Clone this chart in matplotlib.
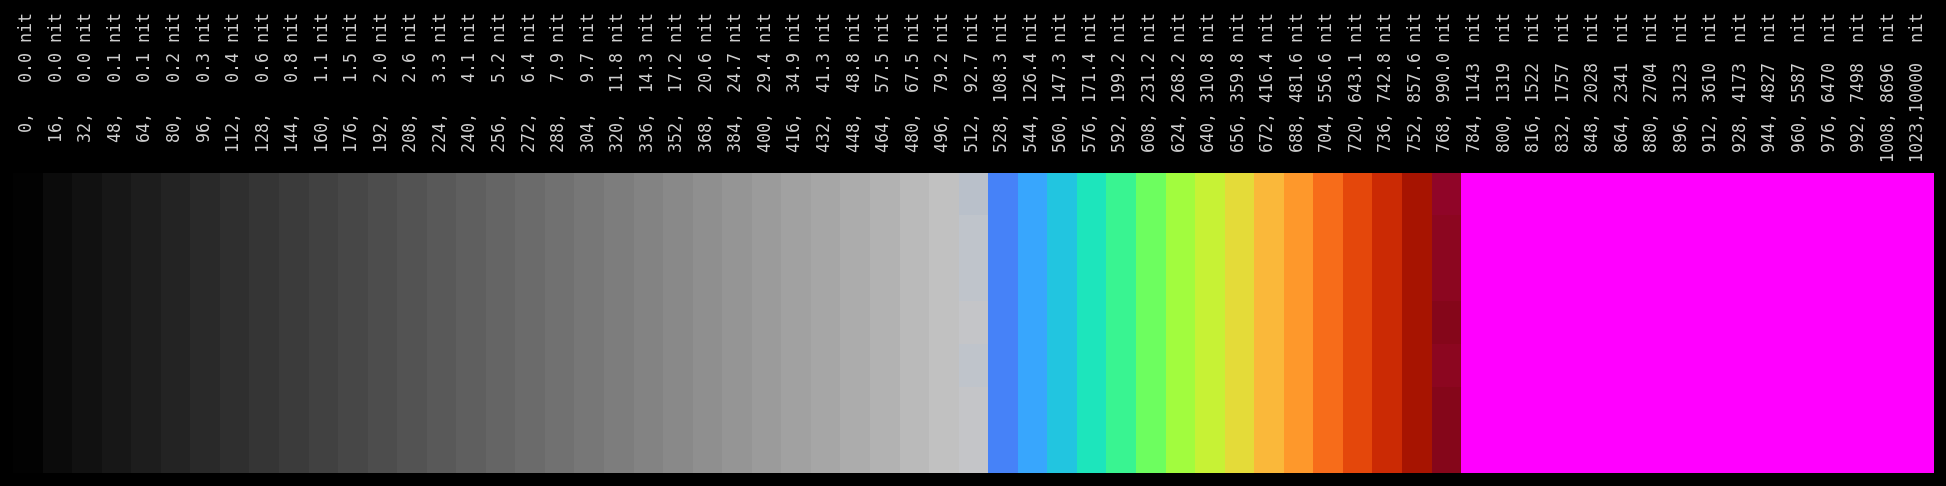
import matplotlib
matplotlib.use("Agg")
import matplotlib.pyplot as plt
import matplotlib.colors as mcolors
import numpy as np

# code values and the luminance they map to
codes = list(range(0, 1024, 16)) + [1023]
nits = [0.0, 0.0, 0.0, 0.1, 0.1, 0.2, 0.3, 0.4, 0.6, 0.8, 1.1, 1.5, 2.0, 2.6, 3.3, 4.1,
        5.2, 6.4, 7.9, 9.7, 11.8, 14.3, 17.2, 20.6, 24.7, 29.4, 34.9, 41.3, 48.8, 57.5, 67.5, 79.2,
        92.7, 108.3, 126.4, 147.3, 171.4, 199.2, 231.2, 268.2, 310.8, 359.8, 416.4, 481.6, 556.6,
        643.1, 742.8, 857.6, 990.0, 1143, 1319, 1522, 1757, 2028, 2341, 2704, 3123, 3610, 4173,
        4827, 5587, 6470, 7498, 8696, 10000]

# gray patches for codes 0..496
gray_levels = [2, 11, 17, 23, 29, 35, 41, 47, 53, 59, 65, 71, 77, 83, 89, 95,
               101, 107, 113, 119, 125, 131, 137, 143, 149, 155, 161, 166, 172, 178, 186, 193]
# colour patches for codes 528..752
hot_colors = ['#4682f8', '#38a6fd', '#22c5e0', '#1de5bc', '#39f491', '#6dfe5f', '#a2fc3e',
              '#c7f235', '#e4db39', '#fab83a', '#fe982b', '#f76c1a', '#e4470b', '#cb2a04', '#a71401']
# the two boundary columns differ slightly row by row (7 rows)
col_512 = ['#b9c0ca', '#bfc4cb', '#bfc4cb', '#c4c5c8', '#bfc4cb', '#c4c5c8', '#c4c5c8']
col_768 = ['#900528', '#8c0620', '#8c0620', '#85061a', '#8c0620', '#85061a', '#85061a']
over_color = '#ff00ff'  # codes 784 and above

n_rows = 7
img = np.zeros((n_rows, len(codes), 3))
for i, c in enumerate(codes):
    for r in range(n_rows):
        if c < 512:
            g = gray_levels[i] / 255
            img[r, i] = (g, g, g)
        elif c == 512:
            img[r, i] = mcolors.to_rgb(col_512[r])
        elif c < 768:
            img[r, i] = mcolors.to_rgb(hot_colors[i - 33])
        elif c == 768:
            img[r, i] = mcolors.to_rgb(col_768[r])
        else:
            img[r, i] = mcolors.to_rgb(over_color)

labels = []
for c, n in zip(codes, nits):
    if n < 1000:
        labels.append(f"{c:4d},{n:6.1f} nit")
    else:
        labels.append(f"{c:4d},{int(n):5d}  nit")

fig = plt.figure(figsize=(19.46, 4.86), dpi=100, facecolor='black')
ax = fig.add_axes([12.5 / 1946, 13 / 486, 1920.5 / 1946, 300 / 486])
ax.set_facecolor('black')
ax.imshow(img, aspect='auto', interpolation='nearest',
          extent=(-0.5, len(codes) - 0.5, n_rows - 0.5, -0.5))
ax.xaxis.tick_top()
ax.set_xticks(range(len(codes)))
ax.set_xticklabels(labels, rotation=90, fontfamily='DejaVu Sans Mono', fontsize=12, color='#d2d2d2')
ax.tick_params(axis='x', length=0, pad=8)
ax.set_yticks([])
for s in ax.spines.values():
    s.set_visible(False)

fig.savefig('out.png', dpi=100, facecolor='black')
